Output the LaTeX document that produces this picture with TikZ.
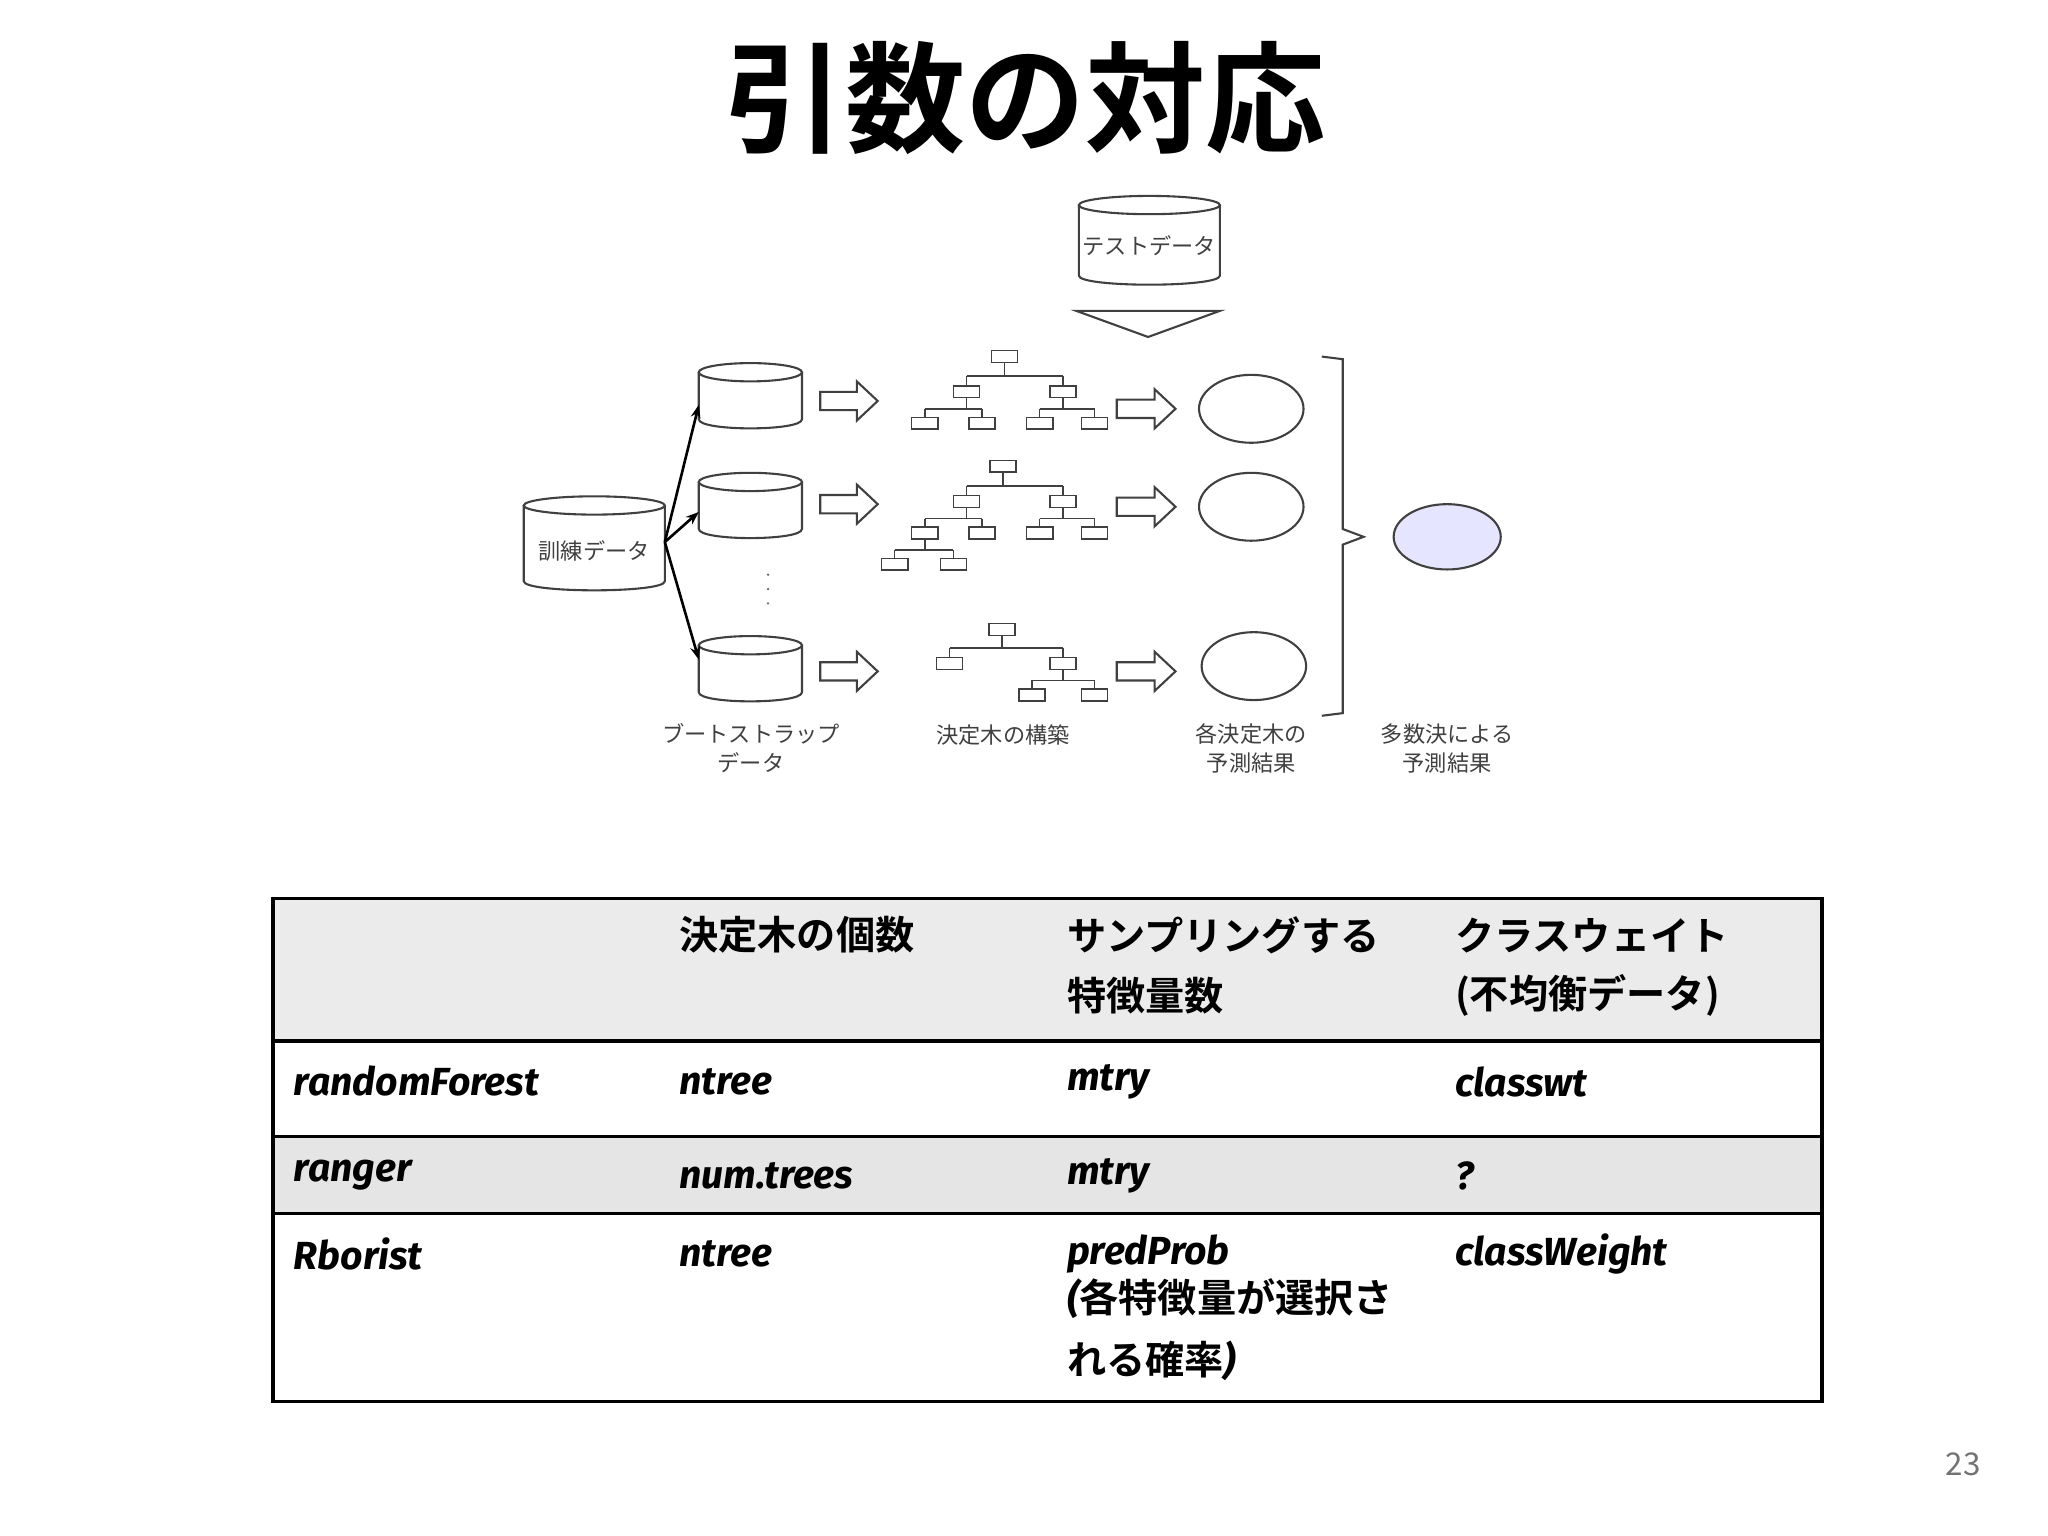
\documentclass[tikz,border=0pt]{standalone}
\usepackage{fontspec}
\usetikzlibrary{arrows.meta}
\setmainfont{Noto Sans CJK JP}[BoldFont={Noto Sans CJK JP Bold}]
\newfontfamily\latit{Fira Sans}
\newcommand\lt[1]{{\latit\bfseries\itshape #1}}
\tikzset{
 dia/.style={draw=black!75, line width=0.8pt},
 dtext/.style={font=\fontsize{8.5}{11}\selectfont, text=black!75, align=center},
 tnode/.style={draw=black!75, line width=0.6pt, fill=white, minimum width=10pt, minimum height=4.5pt, inner sep=0pt},
 ttext/.style={font=\fontsize{15}{23}\selectfont\bfseries, anchor=west, align=left},
}
\newcommand\mycyl[5]{% name x1 y1 x2 y2
 \pgfmathsetmacro\cx{(#2+#4)/2}
 \draw[dia, fill=white] (#2,#3+7) -- (#2,#5-7) .. controls (#2,#5+2.3) and (#4,#5+2.3) .. (#4,#5-7) -- (#4,#3+7);
 \draw[dia, fill=white] (\cx,#3+7) ellipse [x radius={(#4-#2)/2}, y radius=7];
 \coordinate (#1) at (\cx,{(#3+#5)/2+4});
 \coordinate (#1-w) at (#2,{(#3+#5)/2+4});
 \coordinate (#1-e) at (#4,{(#3+#5)/2+4});
}
\newcommand\barrow[3]{% x1 x2 y
 \draw[dia, fill=white] (#1,#3-7) -- (#2-16,#3-7) -- (#2-16,#3-15) -- (#2,#3) -- (#2-16,#3+15) -- (#2-16,#3+7) -- (#1,#3+7) -- cycle;
}
% tree helpers
\newcommand\tsplit[4]{% parent, left, right, bar y
 \draw[dia, line width=0.6pt] (#1) -- (#1 |- 0,#4) (#2 |- 0,#4) -- (#3 |- 0,#4) (#2 |- 0,#4) -- (#2) (#3 |- 0,#4) -- (#3);
}
\begin{document}
\begin{tikzpicture}[x=0.5pt,y=-0.5pt]
\useasboundingbox (0,0) rectangle (1568,1176);
\fill[white] (0,0) rectangle (1568,1176);
\node[font=\fontsize{46}{50}\selectfont\bfseries] (title) at (785,75) {引数の対応};

% test data
\mycyl{test}{826}{150}{934}{218}
\node[dtext] (testl) at (880,188) {テストデータ};
\draw[dia] (824,238) -- (934,238) -- (879,258) -- cycle;

% training
\mycyl{train}{401}{380}{509}{452}
\node[dtext] (trainl) at (455,422) {訓練データ};
% bootstrap
\mycyl{b1}{535}{278}{614}{328}
\mycyl{b2}{535}{362}{614}{412}
\mycyl{b3}{535}{487}{614}{537}
\coordinate (tp) at (509,415);
\foreach \b/\yy in {b1/310,b2/392,b3/505}
  \draw[black, line width=1pt, -{Stealth[length=5pt]}] (tp) -- (535,\yy);
\foreach \yy in {440,451,462} \fill[black!60] (588,\yy) circle (1);

\barrow{628}{672}{307}
\barrow{628}{672}{386}
\barrow{628}{672}{514}
\barrow{855}{900}{313}
\barrow{855}{900}{388}
\barrow{855}{900}{514}

% tree 1
\node[tnode] (a0) at (769,273) {};
\node[tnode] (a1) at (740,300) {}; \node[tnode] (a2) at (814,300) {};
\node[tnode] (a3) at (708,324) {}; \node[tnode] (a4) at (752,324) {};
\node[tnode] (a5) at (796,324) {}; \node[tnode] (a6) at (838,324) {};
\tsplit{a0}{a1}{a2}{288}
\tsplit{a1}{a3}{a4}{313}
\tsplit{a2}{a5}{a6}{313}
% tree 2
\node[tnode] (c0) at (768,357) {};
\node[tnode] (c1) at (740,384) {}; \node[tnode] (c2) at (814,384) {};
\node[tnode] (c3) at (708,408) {}; \node[tnode] (c4) at (752,408) {};
\node[tnode] (c5) at (796,408) {}; \node[tnode] (c6) at (838,408) {};
\node[tnode] (c7) at (685,432) {}; \node[tnode] (c8) at (730,432) {};
\tsplit{c0}{c1}{c2}{372}
\tsplit{c1}{c3}{c4}{397}
\tsplit{c2}{c5}{c6}{397}
\tsplit{c3}{c7}{c8}{421}
% tree 3
\node[tnode] (d0) at (767,482) {};
\node[tnode] (d1) at (727,508) {}; \node[tnode] (d2) at (814,508) {};
\node[tnode] (d3) at (790,532) {}; \node[tnode] (d4) at (838,532) {};
\tsplit{d0}{d1}{d2}{496}
\tsplit{d2}{d3}{d4}{521}

% predictions
\draw[dia] (958,313) ellipse [x radius=40, y radius=26];
\draw[dia] (958,388) ellipse [x radius=40, y radius=26];
\draw[dia] (960,510) ellipse [x radius=40, y radius=26];
\draw[dia, fill=blue!10] (1108,411) ellipse [x radius=41, y radius=25];
\draw[dia] (1012,273) -- (1028,275) -- (1028,405) -- (1044,411) -- (1028,417) -- (1028,546) -- (1012,548);

\node[dtext] (l1) at (575,573) {ブートストラップ\\データ};
\node[dtext] (l2) at (768,563) {決定木の構築};
\node[dtext] (l3) at (958,573) {各決定木の\\予測結果};
\node[dtext] (l4) at (1108,573) {多数決による\\予測結果};

% table
\fill[black!8] (209,688) rectangle (1395,797);
\fill[black!10] (209,870) rectangle (1395,929);
\draw[line width=1.2pt] (209,688) rectangle (1395,1073);
\foreach \yy in {797,870,929} \draw[line width=1.2pt] (209,\yy) -- (1395,\yy);

\node[ttext] (h2) at (513,716) {決定木の個数};
\node[ttext] (h3) at (810,716) {サンプリングする};
\node[ttext] (h3b) at (810,762) {特徴量数};
\node[ttext] (h4) at (1107,716) {クラスウェイト};
\node[ttext] (h4b) at (1107,762) {(不均衡データ)};

\node[ttext] (r11) at (218,828) {\lt{randomForest}};
\node[ttext] (r12) at (513,828) {\lt{ntree}};
\node[ttext] (r13) at (810,828) {\lt{mtry}};
\node[ttext] (r14) at (1107,828) {\lt{classwt}};
\node[ttext] (r21) at (218,900) {\lt{ranger}};
\node[ttext] (r22) at (513,900) {\lt{num.trees}};
\node[ttext] (r23) at (810,900) {\lt{mtry}};
\node[ttext] (r24) at (1107,900) {\lt{?}};
\node[ttext] (r31) at (218,960) {\lt{Rborist}};
\node[ttext] (r32) at (513,960) {\lt{ntree}};
\node[ttext] (r33) at (810,960) {\lt{predProb}};
\node[ttext] (r33b) at (810,994) {\lt{(}各特徴量が選択さ};
\node[ttext] (r33c) at (810,1042) {れる確率\lt{)}};
\node[ttext] (r34) at (1107,960) {\lt{classWeight}};

\node[font=\fontsize{12}{14}\selectfont, text=black!55] (pg) at (1503,1121) {23};
\end{tikzpicture}
\end{document}
